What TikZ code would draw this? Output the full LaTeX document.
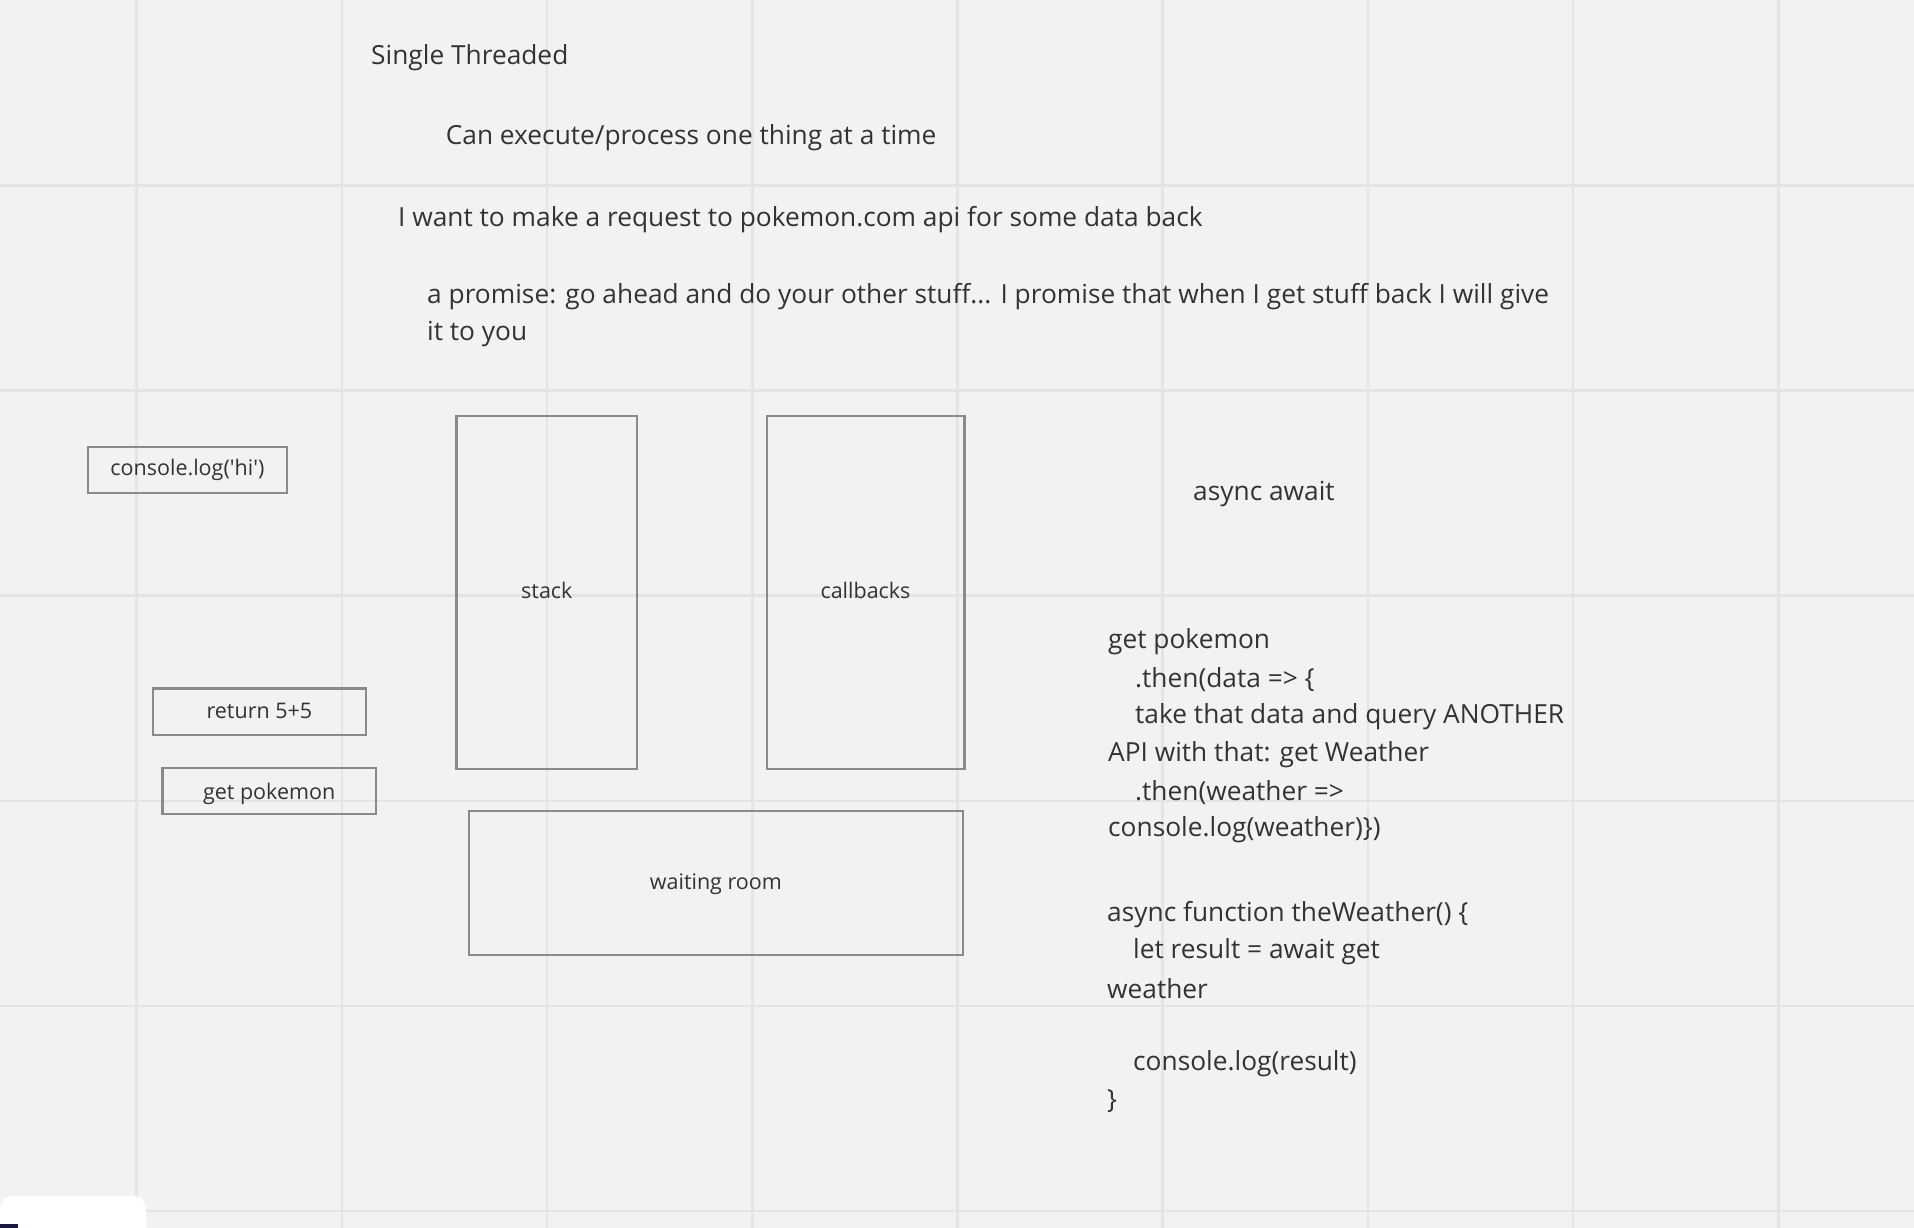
\documentclass[tikz,border=0pt]{standalone}
\usepackage{fontspec}
\setmainfont{Open Sans}[Ligatures=TeXOff]
\definecolor{bgc}{HTML}{F2F2F2}
\definecolor{gridc}{HTML}{E4E4E4}
\definecolor{boxc}{HTML}{8A8A8A}
\definecolor{txtc}{HTML}{333333}
\definecolor{navy}{HTML}{1A1A40}
\begin{document}
\begin{tikzpicture}[x=1pt,y=-1pt,
  bigtxt/.style={anchor=west,inner sep=0pt,text=txtc,font=\fontsize{26.3}{38}\selectfont},
  smalltxt/.style={text=txtc,font=\fontsize{21.5}{24}\selectfont},
  sbox/.style={draw=boxc,line width=2.2pt,inner sep=0pt}]
\useasboundingbox (0,0) rectangle (1914,1228);
\fill[bgc] (0,0) rectangle (1914,1228);
% grid
\foreach \gx in {136.7,341.9,547.1,752.3,957.5,1162.7,1367.9,1573.1,1778.3}
  \draw[gridc,line width=2.5pt] (\gx,0) -- (\gx,1228);
\foreach \gy in {185.5,390.6,595.7,800.8,1005.9,1211}
  \draw[gridc,line width=2.5pt] (0,\gy) -- (1914,\gy);

% header texts
\node[bigtxt] (t1) at (371,57.5) {Single Threaded};
\node[bigtxt] (t2) at (445.6,137.5) {Can execute/process one thing at a time};
\node[bigtxt] (t3) at (398,219.5) {I want to make a request to pokemon.com api for some data back};
\node[bigtxt] (t4) at (427,296.5) {a promise: go ahead and do your other stuff... I promise that when I get stuff back I will give};
\node[bigtxt] (t5) at (427,334.5) {it to you};

% boxes
\node[sbox,minimum width=199pt,minimum height=46.4pt] (b1) at (187.4,470) {};
\node[smalltxt] (l1) at ([yshift=-0.3pt]b1.center) {console.log('hi')};
\node[sbox,minimum width=213.6pt,minimum height=46.4pt] (b2) at (259.4,711.7) {};
\node[smalltxt] (l2) at ([yshift=1pt]b2.center) {return 5+5};
\node[sbox,minimum width=213.6pt,minimum height=46.4pt] (b3) at (269.2,791) {};
\node[smalltxt] (l3) at ([yshift=-2.5pt]b3.center) {get pokemon};

\node[sbox,minimum width=180.7pt,minimum height=352.7pt] (stack) at (546.85,592.65) {};
\node[smalltxt] (ls) at ([yshift=2.5pt]stack.center) {stack};
\node[sbox,minimum width=197.8pt,minimum height=352.7pt] (cb) at (865.5,592.65) {};
\node[smalltxt] (lc) at ([yshift=2.5pt]cb.center) {callbacks};
\node[sbox,minimum width=494.4pt,minimum height=144pt] (wr) at (715.9,882.6) {};
\node[smalltxt] (lw) at ([yshift=-1.4pt]wr.center) {waiting room};

% right texts
\node[bigtxt] (aa) at (1193,494) {async await};
\node[bigtxt] (c1) at (1108,641.5) {get pokemon};
\node[bigtxt] (c2) at (1135,679.5) {.then(data => \{};
\node[bigtxt] (c3) at (1135,716.5) {take that data and query ANOTHER};
\node[bigtxt] (c4) at (1108,754.5) {API with that: get Weather};
\node[bigtxt] (c5) at (1135,792.5) {.then(weather =>};
\node[bigtxt] (c6) at (1108,830) {console.log(weather)\})};
\node[bigtxt] (d1) at (1107,914.5) {async function theWeather() \{};
\node[bigtxt] (d2) at (1133,951.5) {let result = await get};
\node[bigtxt] (d3) at (1107,988.5) {weather};
\node[bigtxt] (d4) at (1133,1064) {console.log(result)};
\node[bigtxt] (d5) at (1107,1101.5) {\}};

% bottom-left panel
\fill[white,rounded corners=12pt] (0,1240) -- (0,1196) -- (146,1196) -- (146,1240) -- cycle;
\fill[navy] (0,1224) rectangle (18,1228);
\end{tikzpicture}
\end{document}
